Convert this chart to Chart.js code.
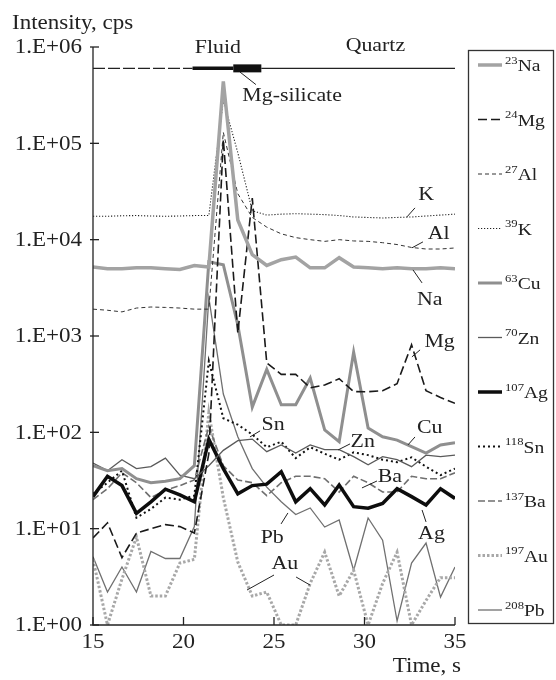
<!DOCTYPE html>
<html>
<head>
<meta charset="utf-8">
<script src="https://cdn.jsdelivr.net/npm/chart.js@4.4.0/dist/chart.umd.min.js"></script>
<style>
  html, body { margin: 0; padding: 0; background: #fff; }
</style>
</head>
<body>
<canvas id="myChart" width="556" height="680"></canvas>
<script>
// time of each acquisition, s
const times = [15.0, 15.8, 16.6, 17.4, 18.2, 19.0, 19.8, 20.6, 21.4, 22.2, 23.0, 23.8, 24.6,
               25.4, 26.2, 27.0, 27.8, 28.6, 29.4, 30.2, 31.0, 31.8, 32.6, 33.4, 34.2, 35.0];

const isotopes = ['23', '24', '27', '39', '63', '70', '107', '118', '137', '197', '208'];
const elements = ['Na', 'Mg', 'Al', 'K', 'Cu', 'Zn', 'Ag', 'Sn', 'Ba', 'Au', 'Pb'];

// intensities, cps
const na = [5200, 5000, 5000, 5100, 5100, 5000, 4900, 5400, 5200, 440000, 16000, 7000, 5400,
            6200, 6600, 5100, 5100, 6500, 5200, 5100, 5000, 5100, 5000, 5000, 5100, 5000];
const mg = [8, 11.5, 5, 9, 10, 11, 10.5, 9, 60, 110000, 1070, 27000, 525,
            400, 400, 290, 310, 360, 265, 264, 270, 320, 810, 270, 230, 200];
const al = [1900, 1850, 1780, 1950, 2000, 1980, 1950, 1900, 1900, 130000, 30000, 17000, 13500,
            11500, 10500, 10000, 9600, 10000, 9700, 9600, 9300, 8900, 8300, 8000, 8000, 8200];
const k = [17500, 17500, 17700, 17800, 17600, 17500, 17600, 17800, 17800, 280000, 80000, 20000, 18000,
           18400, 18600, 18400, 18200, 17800, 17200, 17000, 16800, 17000, 17200, 17600, 18000, 18400];
const cu = [45, 40, 42, 33, 30, 31, 33, 45, 5900, 5500, 1300, 183, 450,
            193, 193, 366, 106, 80, 680, 111, 90, 83, 71, 61, 74, 78];
const zn = [48, 40, 52, 42, 44, 54, 36, 33, 45, 65, 82, 85, 63,
            74, 61, 74, 66, 66, 56, 46, 56, 52, 44, 58, 56, 58];
const ag = [21.5, 35, 28, 14.4, 19, 25.7, 22.4, 19, 84.5, 42, 23, 28, 29,
            39, 19, 26, 17.6, 28.4, 16.9, 16.3, 18.3, 26, 21.5, 17.6, 26, 20.6];
const sn = [23, 30, 40, 13, 16, 21, 20, 22, 550, 140, 120, 95, 70,
            80, 54, 70, 60, 52, 62, 58, 52, 49, 55, 44, 36, 42];
const ba = [20, 26, 38, 30, 21, 25, 28, 32, 115, 45, 32, 30, 22,
            30, 35, 35, 33, 24, 35, 30, 24, 24, 35, 33, 33, 38];
const au = [4.8, 1.0, 3.0, 8.2, 2.0, 2.0, 4.4, 4.8, 160, 21, 4.5, 2.0, 2.2,
            1.0, 1.0, 2.7, 5.7, 2.0, 3.7, 1.0, 2.7, 5.7, 1.0, 1.8, 3.1, 3.1];
const pb = [5.1, 2.2, 4.0, 2.2, 5.8, 4.9, 4.9, 10.5, 2500, 250, 90, 42, 27,
            19, 14, 16.4, 10.4, 12.3, 3.7, 12.9, 7.6, 1.1, 4.4, 7.1, 1.95, 4];

// phase bar at the top: boundaries (s) and level (cps)
const phaseBounds = [15, 20.5, 22.75, 24.3, 35];
const phaseLevel = 600000;

const xTicks = [15, 20, 25, 30, 35];
const yTicks = [1, 10, 100, 1000, 10000, 100000, 1000000];
const yTickLabels = ['1.E+00', '1.E+01', '1.E+02', '1.E+03', '1.E+04', '1.E+05', '1.E+06'];

// text labels on the plot: [text, time, log10(cps)] and leader lines
const notes = [
  ['K', 33.4, 4.46], ['Al', 34.1, 4.06], ['Na', 33.6, 3.37], ['Mg', 34.15, 2.94],
  ['Cu', 33.6, 2.05], ['Zn', 29.9, 1.90], ['Sn', 24.95, 2.08], ['Ba', 31.4, 1.54],
  ['Ag', 33.7, 0.94], ['Pb', 24.9, 0.90], ['Au', 25.6, 0.63],
  ['Fluid', 21.9, 5.99], ['Quartz', 30.6, 6.01], ['Mg-silicate', 26.0, 5.49]
];
const leaders = [
  [32.79, 4.33, 32.35, 4.237], [33.23, 3.977, 32.62, 3.915], [33.18, 3.551, 32.68, 3.686],
  [33.07, 2.856, 32.62, 2.783], [32.79, 1.952, 32.40, 1.869], [29.20, 1.88, 28.54, 1.817],
  [24.23, 2.015, 23.67, 1.952], [30.69, 1.495, 29.86, 1.423], [33.40, 1.07, 33.18, 1.194],
  [25.39, 1.049, 25.77, 1.163], [25.0, 0.519, 23.51, 0.363], [26.22, 0.498, 26.99, 0.415],
  [23.12, 5.74, 24.0, 5.61]
];

function series(arr) {
  return times.map((t, i) => ({ x: t, y: arr[i] }));
}
function flat(a, b) {
  return [{ x: a, y: phaseLevel }, { x: b, y: phaseLevel }];
}

const FONT = '"Liberation Serif", "Times New Roman", serif';
const STRETCH = 1.15;

function txt(ctx, s, x, y, size, align) {
  ctx.save();
  ctx.font = size + 'px ' + FONT;
  ctx.textBaseline = 'middle';
  ctx.textAlign = align || 'center';
  ctx.translate(x, y);
  ctx.scale(STRETCH, 1);
  ctx.fillText(s, 0, 0);
  ctx.restore();
}
function txtWidth(ctx, s, size) {
  ctx.save();
  ctx.font = size + 'px ' + FONT;
  const w = ctx.measureText(s).width * STRETCH;
  ctx.restore();
  return w;
}

const decor = {
  id: 'decor',
  afterDraw(chart) {
    const ctx = chart.ctx;
    const xs = chart.scales.x, ys = chart.scales.y;
    const a = chart.chartArea;
    ctx.save();
    ctx.strokeStyle = '#222';
    ctx.fillStyle = '#222';
    ctx.lineWidth = 1.3;
    ctx.setLineDash([]);
    // axes
    ctx.beginPath();
    ctx.moveTo(a.left, a.top);
    ctx.lineTo(a.left, a.bottom);
    ctx.lineTo(a.right, a.bottom);
    ctx.stroke();
    yTicks.forEach((v, i) => {
      const py = ys.getPixelForValue(v);
      ctx.beginPath();
      ctx.moveTo(a.left - 3, py);
      ctx.lineTo(a.left + 6, py);
      ctx.stroke();
      txt(ctx, yTickLabels[i], a.left - 11, py + 1, 20, 'right');
    });
    xTicks.forEach(v => {
      const px = xs.getPixelForValue(v);
      ctx.beginPath();
      ctx.moveTo(px, a.bottom);
      ctx.lineTo(px, a.bottom - 8);
      ctx.stroke();
      txt(ctx, String(v), px, a.bottom + 18, 20, 'center');
    });
    txt(ctx, 'Intensity, cps', 12, 24, 20, 'left');
    txt(ctx, 'Time, s', 461, 667, 20, 'right');

    // notes and leaders
    ctx.lineWidth = 1;
    leaders.forEach(l => {
      ctx.beginPath();
      ctx.moveTo(xs.getPixelForValue(l[0]), ys.getPixelForValue(Math.pow(10, l[1])));
      ctx.lineTo(xs.getPixelForValue(l[2]), ys.getPixelForValue(Math.pow(10, l[3])));
      ctx.stroke();
    });
    notes.forEach(n => {
      txt(ctx, n[0], xs.getPixelForValue(n[1]), ys.getPixelForValue(Math.pow(10, n[2])), 19, 'center');
    });

    // legend
    ctx.lineWidth = 1.3;
    ctx.strokeStyle = '#333';
    ctx.strokeRect(468.5, 50.5, 85, 573);
    elements.forEach((el, i) => {
      const ds = chart.data.datasets[i];
      const y = 65 + i * 54.5;
      ctx.save();
      ctx.strokeStyle = ds.borderColor;
      ctx.lineWidth = ds.borderWidth;
      ctx.setLineDash(ds.borderDash || []);
      ctx.beginPath();
      ctx.moveTo(478, y);
      ctx.lineTo(502, y);
      ctx.stroke();
      ctx.restore();
      txt(ctx, isotopes[i], 505, y - 4, 11, 'left');
      const w = txtWidth(ctx, isotopes[i], 11);
      txt(ctx, el, 505 + w, y + 2, 17, 'left');
    });
    ctx.restore();
  }
};

function line(label, data, color, width, dash) {
  return {
    label: label,
    data: series(data),
    borderColor: color,
    borderWidth: width,
    borderDash: dash || [],
    pointRadius: 0,
    tension: 0,
    fill: false
  };
}

const datasets = [
  line('Na', na, '#a3a3a3', 3.5),
  line('Mg', mg, '#1a1a1a', 1.6, [9, 4]),
  line('Al', al, '#333333', 1, [4, 3]),
  line('K', k, '#222222', 1.1, [1.2, 1.8]),
  line('Cu', cu, '#8f8f8f', 3),
  line('Zn', zn, '#5a5a5a', 1.3),
  line('Ag', ag, '#0d0d0d', 3.5),
  line('Sn', sn, '#111111', 2, [2, 3]),
  line('Ba', ba, '#6f6f6f', 1.6, [7, 3]),
  line('Au', au, '#a8a8a8', 3, [2.5, 2]),
  line('Pb', pb, '#707070', 1.3),
  // phase bar
  { label: 'outside', data: flat(phaseBounds[0], phaseBounds[1]), borderColor: '#222', borderWidth: 1.2, borderDash: [12, 3], pointRadius: 0 },
  { label: 'fluid', data: flat(phaseBounds[1], phaseBounds[2]), borderColor: '#111', borderWidth: 3.5, pointRadius: 0 },
  { label: 'mg-silicate', data: flat(phaseBounds[2], phaseBounds[3]), borderColor: '#111', borderWidth: 8, pointRadius: 0 },
  { label: 'quartz', data: flat(phaseBounds[3], phaseBounds[4]), borderColor: '#222', borderWidth: 1.2, pointRadius: 0 }
];

const ctx = document.getElementById('myChart');
const myChart = new Chart(ctx, {
  type: 'line',
  data: { datasets: datasets },
  options: {
    responsive: false,
    animation: false,
    devicePixelRatio: 1,
    layout: { padding: { left: 93, right: 101, top: 47, bottom: 55 } },
    plugins: { legend: { display: false }, tooltip: { enabled: false } },
    scales: {
      x: { type: 'linear', min: 15, max: 35, display: false },
      y: { type: 'logarithmic', min: 1, max: 1000000, display: false }
    }
  },
  plugins: [decor]
});
</script>
</body>
</html>
